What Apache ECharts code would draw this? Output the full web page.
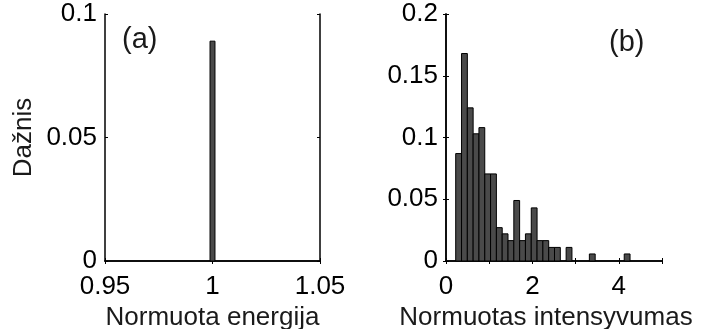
<!DOCTYPE html>
<html>
<head>
<meta charset="utf-8">
<script src="https://cdn.jsdelivr.net/npm/echarts@6/dist/echarts.min.js"></script>
<style>
  html, body { margin: 0; padding: 0; background: #fff; }
  #chart { width: 702px; height: 329px; }
</style>
</head>
<body>
<div id="chart"></div>
<script>
// (a) normalised energy histogram
const energyCenters = [1.0];
const energyFreq = [0.089];
const energyBinWidth = 0.0023;

// (b) normalised intensity histogram (non-empty bins)
const intensityCenters = [0.292, 0.427, 0.561, 0.696, 0.830, 0.965, 1.099, 1.234, 1.368, 1.503,
  1.637, 1.772, 1.906, 2.041, 2.175, 2.310, 2.444, 2.579, 2.848, 3.386, 4.193];
const intensityFreq = [0.087, 0.168, 0.124, 0.103, 0.108, 0.0705, 0.0705, 0.027, 0.022, 0.0165,
  0.049, 0.0165, 0.022, 0.043, 0.0165, 0.0165, 0.011, 0.011, 0.011, 0.0057, 0.0057];
const intensityBinWidth = 0.1345;

const energyTicks = [0.95, 1, 1.05];
const intensityTicks = [0, 2, 4];

const FONT = 'Liberation Sans, Arial, sans-serif';
const FS = 26;

function histItem(binWidth) {
  return function (params, api) {
    const x = api.value(0), y = api.value(1);
    const p0 = api.coord([x - binWidth / 2, y]);
    const p1 = api.coord([x + binWidth / 2, 0]);
    return {
      type: 'rect',
      shape: { x: p0[0], y: p0[1], width: p1[0] - p0[0], height: p1[1] - p0[1] },
      style: { fill: '#4a4a4a', stroke: '#000', lineWidth: 1 }
    };
  };
}

function xAxes(gridIndex, min, max, interval, ticks, name, namePad) {
  const base = {
    gridIndex, type: 'value', min, max, interval,
    splitLine: { show: false },
    axisLine: { show: true, lineStyle: { color: '#000', width: 1.5 } },
    axisTick: { show: true, inside: true, length: 3, lineStyle: { color: '#000' } }
  };
  return [
    Object.assign({}, base, {
      position: 'bottom',
      name, nameLocation: 'middle', nameGap: 36,
      nameTextStyle: { fontFamily: FONT, fontSize: FS, color: '#1a1a1a', padding: namePad },
      axisLabel: {
        show: true, margin: 13, fontFamily: FONT, fontSize: FS, color: '#000',
        formatter: v => ticks.some(t => Math.abs(t - v) < 1e-9) ? String(+v.toFixed(4)) : ''
      }
    }),
    Object.assign({}, base, { position: 'top', axisLabel: { show: false } })
  ];
}

function yAxes(gridIndex, max, interval, name) {
  const base = {
    gridIndex, type: 'value', min: 0, max, interval,
    splitLine: { show: false },
    axisLine: { show: true, lineStyle: { color: '#000', width: 1.5 } },
    axisTick: { show: true, inside: true, length: 3, lineStyle: { color: '#000' } }
  };
  return [
    Object.assign({}, base, {
      position: 'left',
      name, nameLocation: 'middle', nameGap: 68,
      nameTextStyle: { fontFamily: FONT, fontSize: FS, color: '#1a1a1a' },
      axisLabel: {
        show: true, margin: 8, fontFamily: FONT, fontSize: FS, color: '#000',
        formatter: v => String(+v.toFixed(4))
      }
    }),
    Object.assign({}, base, { position: 'right', axisLabel: { show: false } })
  ];
}

const chart = echarts.init(document.getElementById('chart'), null, { renderer: 'canvas' });

chart.setOption({
  animation: false,
  backgroundColor: '#fff',
  grid: [
    { left: 105, right: 382, top: 14, bottom: 68, containLabel: false, outerBoundsMode: 'none' },
    { left: 446, right: 40, top: 14, bottom: 68, containLabel: false, outerBoundsMode: 'none' }
  ],
  xAxis: [
    ...xAxes(0, 0.95, 1.05, 0.05, energyTicks, 'Normuota energija', [0, 0, 0, 0]),
    ...xAxes(1, 0, 5, 1, intensityTicks, 'Normuotas intensyvumas', [0, 16, 0, 0])
  ],
  yAxis: [
    ...yAxes(0, 0.1, 0.05, 'Dažnis'),
    ...yAxes(1, 0.2, 0.05, '')
  ],
  graphic: [
    { type: 'text', left: 122, top: 25, style: { text: '(a)', font: '29px ' + FONT, fill: '#1a1a1a' } },
    { type: 'text', left: 609, top: 28, style: { text: '(b)', font: '29px ' + FONT, fill: '#1a1a1a' } }
  ],
  series: [
    {
      type: 'custom', xAxisIndex: 0, yAxisIndex: 0,
      renderItem: histItem(energyBinWidth),
      encode: { x: 0, y: 1 },
      data: energyCenters.map((c, i) => [c, energyFreq[i]])
    },
    {
      type: 'custom', xAxisIndex: 2, yAxisIndex: 2,
      renderItem: histItem(intensityBinWidth),
      encode: { x: 0, y: 1 },
      data: intensityCenters.map((c, i) => [c, intensityFreq[i]])
    }
  ]
});
</script>
</body>
</html>
